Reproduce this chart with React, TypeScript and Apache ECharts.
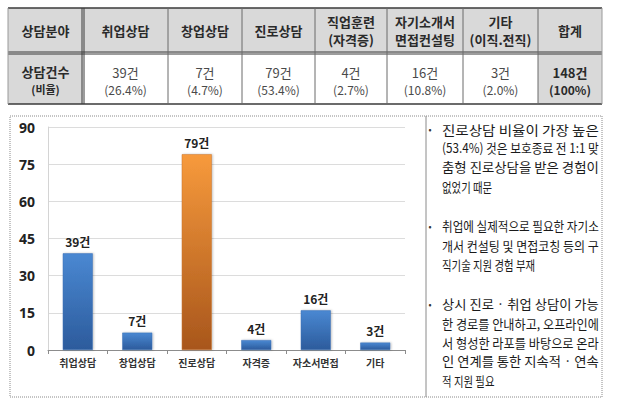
import React, { useEffect, useRef } from "react";
import * as echarts from "echarts";

// ---- data ----
const categories = ["취업상담", "창업상담", "진로상담", "자격증", "자소서면접", "기타"];
const counts = [39, 7, 79, 4, 16, 3];
const highlightIndex = 2;
const yMin = 0;
const yMax = 90;
const yInterval = 15;

const tableHeaders = [
  "상담분야",
  "취업상담",
  "창업상담",
  "진로상담",
  "직업훈련\n(자격증)",
  "자기소개서\n면접컨설팅",
  "기타\n(이직.전직)",
  "합계",
];
const tableCounts = ["39건", "7건", "79건", "4건", "16건", "3건", "148건"];
const tablePercents = ["(26.4%)", "(4.7%)", "(53.4%)", "(2.7%)", "(10.8%)", "(2.0%)", "(100%)"];

const notes: string[][] = [
  ["진로상담 비율이 가장 높은", "(53.4%) 것은 보호종료 전 1:1 맞", "춤형 진로상담을 받은 경험이", "없었기 때문"],
  ["취업에 실제적으로 필요한 자기소", "개서 컨설팅 및 면접코칭 등의 구", "직기술 지원 경험 부재"],
  [
    "상시 진로 · 취업 상담이 가능",
    "한 경로를 안내하고, 오프라인에",
    "서 형성한 라포를 바탕으로 온라",
    "인 연계를 통한 지속적 · 연속",
    "적 지원 필요",
  ],
];

const FONT = '"Noto Sans CJK KR", "Noto Sans", sans-serif';

export default function App() {
  const ref = useRef<HTMLDivElement>(null);

  useEffect(() => {
    if (!ref.current) return;
    const chart = echarts.init(ref.current, null, { renderer: "svg" });

    const graphics: any[] = [];

    // ---- table ----
    const colX = [8, 83, 168, 242, 315, 387, 463, 538, 602];
    const rowY = [8, 53, 104];
    const gray = "#d9d9d9";
    for (let c = 0; c < colX.length - 1; c++) {
      const w = colX[c + 1] - colX[c];
      graphics.push({
        type: "rect",
        shape: { x: colX[c], y: rowY[0], width: w, height: rowY[1] - rowY[0] },
        style: { fill: gray },
        silent: true,
      });
      const grayCell = c === 0 || c === colX.length - 2;
      graphics.push({
        type: "rect",
        shape: { x: colX[c], y: rowY[1], width: w, height: rowY[2] - rowY[1] },
        style: { fill: grayCell ? gray : "#ffffff" },
        silent: true,
      });
    }
    const hLine = (y: number, lw: number, color: string) =>
      graphics.push({
        type: "line",
        shape: { x1: colX[0], y1: y, x2: colX[colX.length - 1], y2: y },
        style: { stroke: color, lineWidth: lw },
        silent: true,
      });
    hLine(rowY[0], 1.5, "#3a3a3a");
    hLine(rowY[1] - 1, 1, "#3a3a3a");
    hLine(rowY[1] + 1, 1, "#3a3a3a");
    hLine(rowY[2], 1.5, "#3a3a3a");
    for (let c = 0; c < colX.length; c++) {
      const x = colX[c];
      const isEdge = c === 0 || c === colX.length - 1;
      if (c === 1) {
        [x - 1, x + 1].forEach((xx) =>
          graphics.push({
            type: "line",
            shape: { x1: xx, y1: rowY[0], x2: xx, y2: rowY[2] },
            style: { stroke: "#3a3a3a", lineWidth: 1 },
            silent: true,
          })
        );
      } else {
        graphics.push({
          type: "line",
          shape: { x1: x, y1: rowY[0], x2: x, y2: rowY[2] },
          style: { stroke: isEdge ? "#9a9a9a" : "#6a6a6a", lineWidth: 1 },
          silent: true,
        });
      }
    }
    tableHeaders.forEach((t, c) => {
      const cx = (colX[c] + colX[c + 1]) / 2;
      graphics.push({
        type: "text",
        x: cx,
        y: (rowY[0] + rowY[1]) / 2,
        style: {
          text: t,
          fontFamily: FONT,
          fontSize: 13,
          fontWeight: "bold",
          fill: "#2a2a2a",
          align: "center",
          verticalAlign: "middle",
          lineHeight: 18,
        },
        silent: true,
      });
    });
    graphics.push({
      type: "text",
      x: (colX[0] + colX[1]) / 2,
      y: 71,
      style: { text: "상담건수", fontFamily: FONT, fontSize: 13, fontWeight: "bold", fill: "#2a2a2a", align: "center", verticalAlign: "middle" },
      silent: true,
    });
    graphics.push({
      type: "text",
      x: (colX[0] + colX[1]) / 2,
      y: 89,
      style: { text: "(비율)", fontFamily: FONT, fontSize: 11, fontWeight: "bold", fill: "#2a2a2a", align: "center", verticalAlign: "middle" },
      silent: true,
    });
    tableCounts.forEach((t, i) => {
      const c = i + 1;
      const cx = (colX[c] + colX[c + 1]) / 2;
      const isTotal = i === tableCounts.length - 1;
      graphics.push({
        type: "text",
        x: cx,
        y: 72,
        style: {
          text: t,
          fontFamily: FONT,
          fontSize: 13,
          fontWeight: isTotal ? "bold" : "normal",
          fill: isTotal ? "#2a2a2a" : "#4a4a4a",
          align: "center",
          verticalAlign: "middle",
        },
        silent: true,
      });
      graphics.push({
        type: "text",
        x: cx,
        y: 89,
        style: {
          text: tablePercents[i],
          fontFamily: FONT,
          fontSize: 12,
          fontWeight: isTotal ? "bold" : "normal",
          fill: isTotal ? "#2a2a2a" : "#4a4a4a",
          align: "center",
          verticalAlign: "middle",
        },
        silent: true,
      });
    });

    // ---- chart and note boxes (dotted) ----
    graphics.push({
      type: "rect",
      shape: { x: 10, y: 116, width: 416, height: 281 },
      style: { fill: "none", stroke: "#8a8a8a", lineWidth: 1, lineDash: [1, 1] },
      silent: true,
    });
    graphics.push({
      type: "rect",
      shape: { x: 426, y: 116, width: 176, height: 281 },
      style: { fill: "none", stroke: "#8a8a8a", lineWidth: 1, lineDash: [1, 1] },
      silent: true,
    });

    // ---- notes ----
    const canvas = document.createElement("canvas");
    const ctx = canvas.getContext("2d")!;
    const noteFontSize = 13;
    ctx.font = `${noteFontSize}px ${FONT}`;
    const textX = 442;
    const textW = 157;
    const lineH = 19;
    const paraGap = 21;
    let y = 129;
    notes.forEach((para) => {
      graphics.push({
        type: "text",
        x: 430,
        y: y,
        style: { text: "•", fontFamily: FONT, fontSize: 9, fill: "#333", align: "center", verticalAlign: "middle" },
        silent: true,
      });
      para.forEach((line, li) => {
        const w = ctx.measureText(line).width || line.length * noteFontSize;
        const isLast = li === para.length - 1;
        const s = isLast ? 0.8 : textW / w;
        graphics.push({
          type: "text",
          x: textX,
          y: y,
          scaleX: s,
          style: {
            text: line,
            fontFamily: FONT,
            fontSize: noteFontSize,
            fill: "#1a1a1a",
            align: "left",
            verticalAlign: "middle",
          },
          silent: true,
        });
        y += lineH;
      });
      y += paraGap;
    });

    const option: any = {
      animation: false,
      backgroundColor: "#ffffff",
      grid: { left: 48, right: 215, top: 127, bottom: 60, containLabel: false },
      xAxis: {
        type: "category",
        data: categories,
        axisLine: { lineStyle: { color: "#8c8c8c", width: 1 } },
        axisTick: { show: true, length: 4, lineStyle: { color: "#8c8c8c" } },
        axisLabel: {
          interval: 0,
          margin: 7,
          fontFamily: FONT,
          fontSize: 10,
          fontWeight: "bold",
          color: "#333",
        },
      },
      yAxis: {
        type: "value",
        min: yMin,
        max: yMax,
        interval: yInterval,
        axisLine: { show: true, lineStyle: { color: "#d4d4d4" } },
        axisTick: { show: false },
        splitLine: { lineStyle: { color: "#dcdcdc" } },
        axisLabel: {
          margin: 13,
          fontFamily: '"Noto Sans", sans-serif',
          fontSize: 14,
          fontWeight: "bold",
          color: "#222",
        },
      },
      series: [
        {
          type: "bar",
          barWidth: 30,
          data: counts.map((v, i) => ({
            value: v,
            itemStyle: {
              color: new echarts.graphic.LinearGradient(0, 0, 0, 1,
                i === highlightIndex
                  ? [
                      { offset: 0, color: "#f79a3c" },
                      { offset: 1, color: "#a8561c" },
                    ]
                  : [
                      { offset: 0, color: "#4a88d2" },
                      { offset: 1, color: "#2c5b9c" },
                    ]
              ),
              borderColor: i === highlightIndex ? "#c8772c" : "#3d70b4",
              borderWidth: 0.5,
              shadowColor: "rgba(0,0,0,0.25)",
              shadowBlur: 2,
              shadowOffsetX: 1,
            },
          })),
          label: {
            show: true,
            position: "top",
            distance: 6,
            formatter: "{c}건",
            fontFamily: FONT,
            fontSize: 12,
            fontWeight: "bold",
            color: "#222",
          },
        },
      ],
      graphic: graphics,
    };

    chart.setOption(option);
    return () => chart.dispose();
  }, []);

  return (
    <div
      ref={ref}
      style={{ position: "absolute", left: 0, top: 0, width: 620, height: 410, background: "#fff" }}
    />
  );
}
